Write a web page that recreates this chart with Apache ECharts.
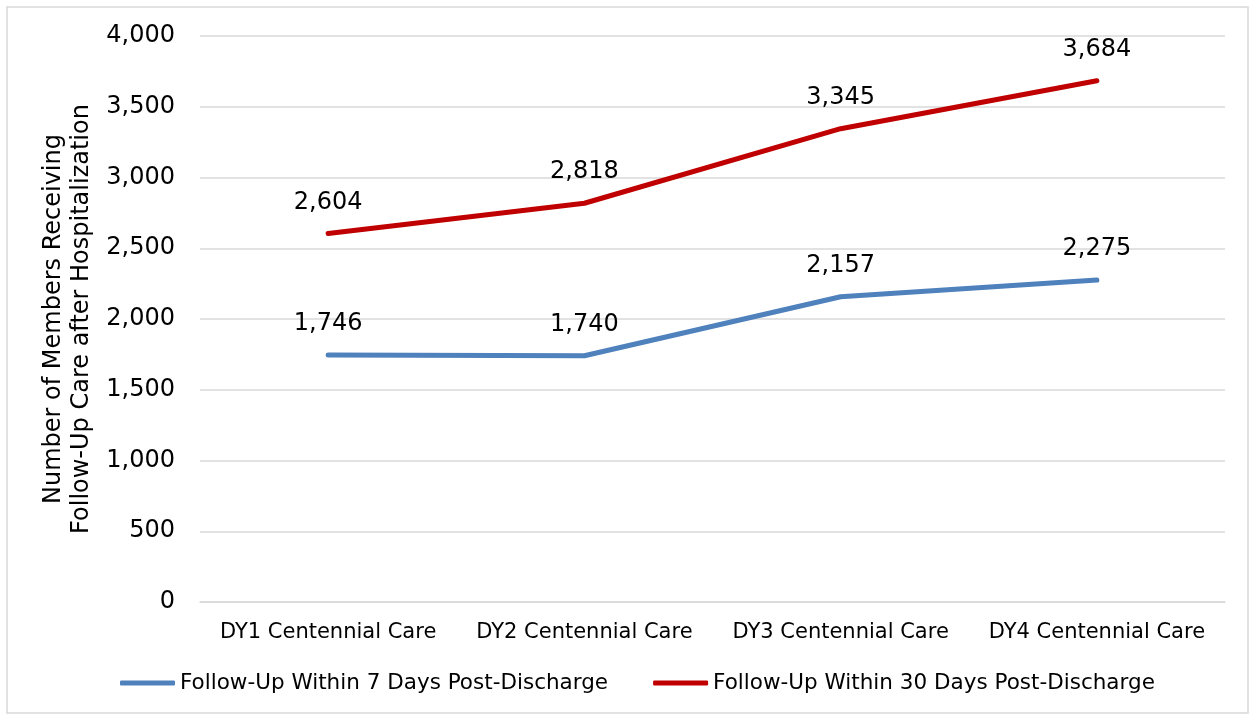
<!DOCTYPE html>
<html>
<head>
<meta charset="utf-8">
<script src="https://cdn.jsdelivr.net/npm/echarts@6/dist/echarts.min.js"></script>
<style>
  html, body { margin: 0; padding: 0; background: #fff; }
  #chart { width: 1252px; height: 715px; }
</style>
</head>
<body>
<div id="chart"></div>
<script>
// categories and values
var categories = ['DY1 Centennial Care', 'DY2 Centennial Care', 'DY3 Centennial Care', 'DY4 Centennial Care'];
var sevenDay = [1746, 1740, 2157, 2275];
var thirtyDay = [2604, 2818, 3345, 3684];
var seriesNames = ['Follow-Up Within 7 Days Post-Discharge', 'Follow-Up Within 30 Days Post-Discharge'];
var yTicks = { min: 0, max: 4000, interval: 500 };

var fontFam = 'Verdana, "DejaVu Sans", sans-serif';

function fmt(v) {
    return v.toString().replace(/\B(?=(\d{3})+(?!\d))/g, ',');
}

function makeSeries(name, data, color) {
    return {
        name: name,
        type: 'line',
        data: data,
        symbol: 'circle',
        symbolSize: 0.1,
        showSymbol: true,
        lineStyle: { color: color, width: 5, cap: 'round' },
        itemStyle: { color: color },
        label: {
            show: true,
            position: 'top',
            distance: 19,
            color: '#000',
            fontFamily: fontFam,
            fontSize: 24,
            formatter: function (p) { return fmt(p.value); }
        }
    };
}

var myChart = echarts.init(document.getElementById('chart'));
myChart.setOption({
    animation: false,
    backgroundColor: '#fff',
    graphic: [{
        type: 'rect',
        shape: { x: 7, y: 7, width: 1241, height: 706 },
        style: { fill: 'none', stroke: '#d9d9d9', lineWidth: 1.5 }
    }],
    grid: { left: 200, right: 27, top: 36, bottom: 113 },
    legend: {
        left: 115,
        top: 667,
        itemWidth: 55,
        itemHeight: 5,
        itemGap: 45,
        icon: 'roundRect',
        textStyle: { color: '#000', fontFamily: fontFam, fontSize: 21.5 },
        data: seriesNames
    },
    xAxis: {
        type: 'category',
        data: categories,
        boundaryGap: true,
        axisLine: { lineStyle: { color: '#d9d9d9', width: 1.5 } },
        axisTick: { show: false },
        axisLabel: { interval: 0, color: '#000', fontFamily: fontFam, fontSize: 21, margin: 20 }
    },
    yAxis: {
        type: 'value',
        min: yTicks.min,
        max: yTicks.max,
        interval: yTicks.interval,
        name: 'Number of Members Receiving\nFollow-Up Care after Hospitalization',
        nameLocation: 'middle',
        nameGap: 91,
        nameTextStyle: { color: '#000', fontFamily: fontFam, fontSize: 24, lineHeight: 28 },
        axisLine: { show: false },
        axisTick: { show: false },
        splitLine: { lineStyle: { color: '#d9d9d9', width: 1.5 } },
        axisLabel: { color: '#000', fontFamily: fontFam, fontSize: 24, margin: 25, formatter: fmt }
    },
    series: [
        makeSeries(seriesNames[0], sevenDay, '#4f81bd'),
        makeSeries(seriesNames[1], thirtyDay, '#c00000')
    ]
});
</script>
</body>
</html>
